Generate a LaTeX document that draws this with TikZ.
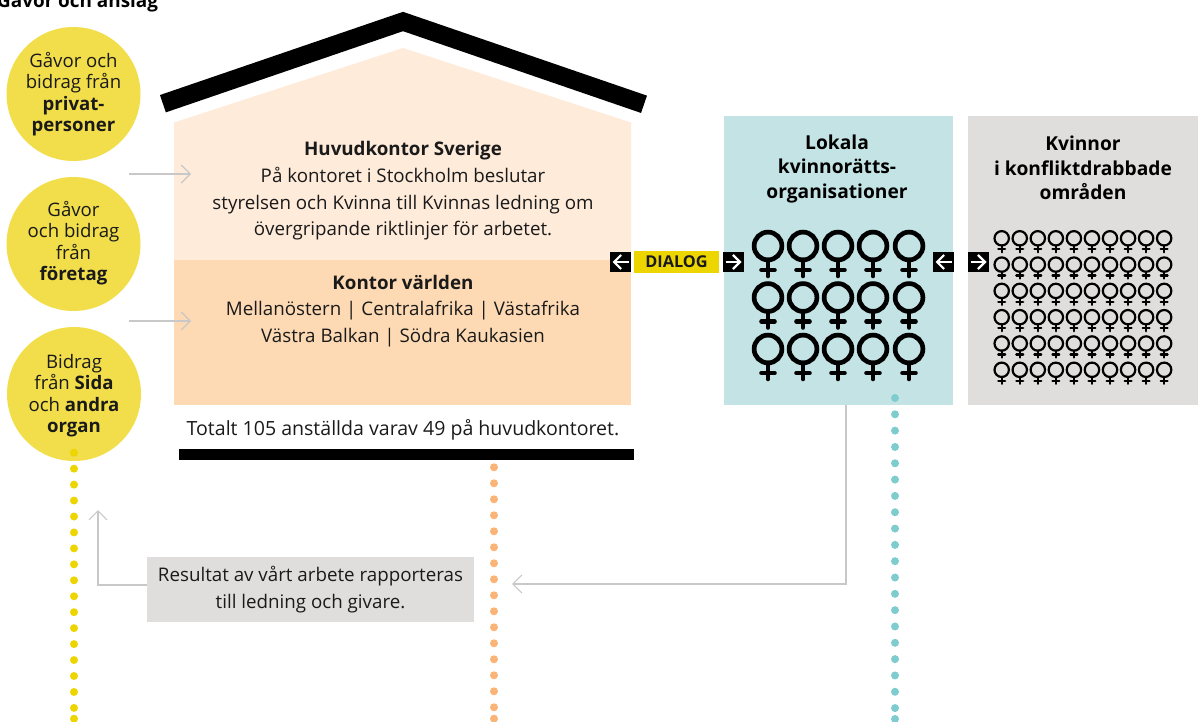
\documentclass[tikz,border=0pt]{standalone}
\usepackage{fontspec}
\setmainfont{Open Sans}
\usetikzlibrary{arrows.meta,calc}
\definecolor{gul}{HTML}{F1DE4A}
\definecolor{gulprick}{HTML}{EDD500}
\definecolor{ljusorange}{HTML}{FEEBDA}
\definecolor{orange}{HTML}{FDDAB4}
\definecolor{orangeprick}{HTML}{FBB478}
\definecolor{ljusbla}{HTML}{C3E3E4}
\definecolor{blaprick}{HTML}{7FCCCE}
\definecolor{ljusgra}{HTML}{DFDEDC}
\definecolor{pilgra}{HTML}{C8C8C8}
\definecolor{text}{HTML}{1A1A1A}
\tikzset{
  brodtext/.style={text=text,align=center,inner sep=0pt,font=\fontsize{18.75}{26.7}\selectfont},
  cirkel/.style={circle,fill=gul,minimum size=134pt,inner sep=0pt},
  cirkeltext/.style={text=text,align=center,inner sep=0pt,font=\fontsize{18.6}{21.5}\selectfont},
  rubrik/.style={text=black,align=center,inner sep=0pt,font=\fontsize{19.2}{24.5}\selectfont\bfseries},
  pilruta/.style={fill=black,minimum width=21pt,minimum height=20pt,inner sep=0pt},
  vitpil/.style={white,line width=2.2pt,-{Straight Barb[length=7pt,width=14pt,line width=2.2pt]}},
  grapil/.style={pilgra,line width=1.2pt,-{Straight Barb[length=9pt,width=18pt,line width=1.2pt]}},
  prickar/.style={line width=8pt,line cap=round},
  kvinnastor/.pic={
    \draw[black,line width=4.7pt] (0,0) circle (13.9);
    \draw[black,line width=4.6pt,line cap=round] (0,14) -- (0,30);
    \draw[black,line width=4.6pt,line cap=round] (-6.5,24) -- (6.5,24);
  },
  kvinnaliten/.pic={
    \draw[black,line width=2.2pt] (0,0) circle (7.2);
    \draw[black,line width=2.3pt,line cap=round] (0,7) -- (0,14);
    \draw[black,line width=2.3pt,line cap=round] (-3.4,11) -- (3.4,11);
  },
}
\begin{document}
\begin{tikzpicture}[x=1pt,y=-1pt]
\useasboundingbox (0,0) rectangle (1198,722);
\node[text=black,anchor=base west,inner sep=0pt,font=\fontsize{18.9}{22}\selectfont\bfseries] (titel) at (-3,8) {Gåvor och anslag};
% cirklar
\node[cirkel] (privat) at (73.5,94) {};
\node[cirkel] (foretag) at (73.5,244) {};
\node[cirkel] (sida) at (74,394) {};
\node[cirkeltext] (privattext) at (73.5,94) {Gåvor och\\bidrag från\\\textbf{privat-}\\\textbf{personer}};
\node[cirkeltext] (foretagtext) at (73.5,243) {Gåvor\\och bidrag\\från\\\textbf{företag}};
\node[cirkeltext] (sidatext) at (74,395.5) {Bidrag\\från \textbf{Sida}\\och \textbf{andra}\\\textbf{organ}};
% huset
\fill[ljusorange] (174,260)--(174,122.5)--(403,48)--(631,122.5)--(631,260)--cycle;
\fill[orange] (174,260) rectangle (631,405);
\draw[black,line width=18.3pt,miter limit=10] (162.9,103.7)--(403,21.5)--(644,104.3);
\fill[black] (179,449) rectangle (634,460);
\node[brodtext] (sverige) at (403,191) {\textbf{Huvudkontor Sverige}\\På kontoret i Stockholm beslutar\\styrelsen och Kvinna till Kvinnas ledning om\\övergripande riktlinjer för arbetet.};
\node[brodtext] (varlden) at (403,311) {\textbf{Kontor världen}\\Mellanöstern | Centralafrika | Västafrika\\Västra Balkan | Södra Kaukasien};
\node[brodtext,font=\fontsize{19.55}{26.7}\selectfont] (totalt) at (403,430) {Totalt 105 anställda varav 49 på huvudkontoret.};
% lokala och kvinnor
\fill[ljusbla] (724,116) rectangle (953,405);
\fill[ljusgra] (968,116) rectangle (1198,405);
\node[rubrik] (lokala) at (837,169) {Lokala\\kvinnorätts-\\organisationer};
\node[rubrik] (kvinnor) at (1083,168) {Kvinnor\\i konfliktdrabbade\\områden};
\foreach \x in {768,803,838,873,909}
\foreach \y in {246,297.5,349}
\pic at (\x,\y) {kvinnastor};
\foreach \x in {0,...,9}
\foreach \y in {0,...,5}
\pic at (1001.7+18.05*\x,238.3+26.3*\y) {kvinnaliten};
% dialog
\node[fill=gulprick,minimum width=85pt,minimum height=22pt,inner sep=0pt,text=text,font=\fontsize{16.3}{18}\selectfont\bfseries] (dialog) at (676.5,262) {DIALOG};
\node[pilruta] (v1) at (620.5,262) {};
\node[pilruta] (h1) at (733.5,262) {};
\node[pilruta] (v2) at (943.5,262) {};
\node[pilruta] (h2) at (978.5,262) {};
\draw[vitpil] ([xshift=8]v1.center)--([xshift=-8]v1.center);
\draw[vitpil] ([xshift=-8]h1.center)--([xshift=8]h1.center);
\draw[vitpil] ([xshift=8]v2.center)--([xshift=-8]v2.center);
\draw[vitpil] ([xshift=-8]h2.center)--([xshift=8]h2.center);
% prickade linjer
\coordinate (gulstart) at (74,452.7);
\coordinate (gulslut) at (74,718.7);
\coordinate (orangestart) at (494,467.3);
\coordinate (orangeslut) at (494,718.7);
\coordinate (blastart) at (895,398);
\coordinate (blaslut) at (895,719);
\draw[prickar,gulprick,dash pattern=on 0pt off 15.95pt] (gulstart)--(gulslut);
\draw[prickar,gulprick] (gulslut)--++(0,0.01);
\draw[prickar,orangeprick,dash pattern=on 0pt off 16pt] (orangestart)--(orangeslut);
\draw[prickar,orangeprick] (orangeslut)--++(0,0.01);
\draw[prickar,blaprick,dash pattern=on 0pt off 16.32pt] (blastart)--(blaslut);
\draw[prickar,blaprick] (blaslut)--++(0,0.01);
% resultat
\node[fill=ljusgra,minimum width=327pt,minimum height=65pt,inner sep=0pt,text=text,align=center,font=\fontsize{18.75}{27}\selectfont] (resultat) at (310.5,589.5) {Resultat av vårt arbete rapporteras\\till ledning och givare.};
% pilar
\coordinate (pil1start) at (129,174);
\coordinate (pil1slut) at (191,174);
\coordinate (pil2start) at (129,321);
\coordinate (pil2slut) at (191,321);
\coordinate (givare) at (98,510);
\coordinate (lokalastart) at (846,405);
\coordinate (lokalaslut) at (512,584);
\draw[grapil] (pil1start)--(pil1slut);
\draw[grapil] (pil2start)--(pil2slut);
\draw[grapil] ([yshift=4.5pt]resultat.west)-|(givare);
\draw[grapil] (lokalastart)|-(lokalaslut);
\end{tikzpicture}
\end{document}
